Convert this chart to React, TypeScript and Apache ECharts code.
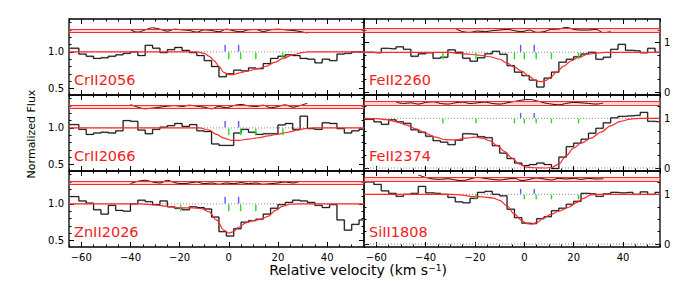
import React, { useEffect, useRef } from "react";
import * as echarts from "echarts";

// ---------- axis scales ----------
const X_MIN = -65;
const X_MAX = 55;
const X_MAJOR = [-60, -40, -20, 0, 20, 40];
const X_MINOR = [-65, -60, -55, -50, -45, -40, -35, -30, -25, -20, -15, -10, -5, 0, 5, 10, 15, 20, 25, 30, 35, 40, 45, 50, 55];
const Y_LEFT_MIN = 0.41;
const Y_LEFT_MAX = 1.45;
const Y_LEFT_MAJOR = [0.5, 1.0];
const Y_LEFT_MINOR = [0.5, 0.6, 0.7, 0.8, 0.9, 1.0, 1.1, 1.2, 1.3, 1.4];
const Y_RIGHT_MIN = -0.06;
const Y_RIGHT_MAX = 1.47;
const Y_RIGHT_MAJOR = [0, 1];
const Y_RIGHT_MINOR = [0, 0.25, 0.5, 0.75, 1, 1.25];

// ---------- velocity grids ----------
const BIN_FIRST_CENTER = -62.5;
const BIN_WIDTH = 3;
const RES_STEP = 3;

// ---------- observed flux (per 3 km/s pixel) ----------
const FLUX_CRII2056 = [1.05, 0.97, 0.94, 0.91, 0.92, 0.94, 0.96, 0.98, 1.0, 0.95, 1.09, 1.05, 0.99, 1.03, 1.06, 1.02, 0.99, 0.95, 0.88, 0.8, 0.66, 0.7, 0.75, 0.74, 0.78, 0.77, 0.84, 0.91, 0.94, 0.96, 0.95, 0.91, 0.9, 0.85, 0.9, 0.88, 0.97, 0.98, 1.0, 1.0];
const FLUX_CRII2066 = [1.045, 0.98, 0.91, 0.93, 0.94, 0.93, 0.96, 1.1, 1.09, 0.97, 0.92, 0.98, 1.01, 1.03, 1.06, 1.02, 1.045, 0.96, 0.95, 0.78, 0.76, 0.76, 0.93, 0.98, 0.94, 0.91, 0.92, 0.92, 1.04, 1.06, 0.98, 1.16, 0.99, 0.98, 1.07, 1.06, 0.99, 0.93, 0.96, 0.98];
const FLUX_ZNII2026 = [1.1, 1.04, 1.01, 0.92, 0.86, 0.98, 0.91, 0.9, 1.0, 1.05, 1.03, 0.99, 1.04, 0.96, 0.94, 0.92, 0.96, 0.95, 0.93, 0.82, 0.62, 0.56, 0.66, 0.75, 0.77, 0.79, 0.86, 0.94, 0.99, 1.02, 1.05, 1.04, 1.02, 0.98, 0.95, 0.99, 0.78, 0.64, 0.72, 0.78];
const FLUX_FEII2260 = [0.8, 0.79, 0.88, 0.87, 0.91, 0.86, 0.72, 0.77, 0.79, 0.68, 0.7, 0.85, 0.8, 0.68, 0.62, 0.69, 0.77, 0.82, 0.76, 0.53, 0.4, 0.33, 0.24, 0.1, 0.28, 0.4, 0.6, 0.66, 0.71, 0.765, 0.8, 0.66, 0.7, 0.86, 0.96, 0.84, 0.83, 0.79, 0.88, 0.8];
const FLUX_FEII2374 = [0.98, 0.93, 0.88, 0.97, 0.93, 0.9, 0.77, 0.72, 0.64, 0.55, 0.52, 0.47, 0.56, 0.69, 0.68, 0.63, 0.61, 0.45, 0.3, 0.19, 0.1, 0.05, 0.07, 0.1, 0.07, -0.01, 0.22, 0.43, 0.5, 0.58, 0.7, 0.8, 0.91, 1.01, 1.04, 1.05, 1.06, 1.12, 0.94, 0.93];
const FLUX_SIII1808 = [1.25, 1.2, 1.07, 1.02, 0.96, 1.0, 1.02, 1.16, 1.03, 1.02, 1.0, 0.94, 0.85, 0.83, 0.92, 1.04, 1.06, 1.0, 0.97, 0.7, 0.53, 0.42, 0.41, 0.51, 0.55, 0.67, 0.72, 0.8, 0.86, 1.02, 1.01, 0.96, 1.01, 1.04, 1.03, 1.04, 1.0, 1.05, 1.0, 1.04];

// ---------- model fits ----------
const FIT_V_CRII2056 = [-65, -55, -45, -35, -25, -17, -13, -10, -8, -6, -4, -2, 0, 2, 4, 8, 12, 15, 19, 22, 26, 30, 32, 36, 42, 48, 55];
const FIT_CRII2056 = [1, 1, 1, 1, 1, 1, 1, 0.98, 0.94, 0.88, 0.8, 0.72, 0.69, 0.69, 0.71, 0.74, 0.77, 0.8, 0.86, 0.91, 0.96, 0.99, 1, 1, 1, 1, 1];
const FIT_V_CRII2066 = [-65, -55, -45, -35, -25, -16, -12, -8, -5, -2, 1, 4, 8, 12, 16, 20, 24, 28, 31, 34, 38, 44, 50, 55];
const FIT_CRII2066 = [1, 1, 1, 1, 1, 1, 1, 0.97, 0.91, 0.86, 0.83, 0.83, 0.845, 0.865, 0.89, 0.915, 0.94, 0.97, 0.99, 1, 1, 1, 1, 1];
const FIT_V_ZNII2026 = [-65, -57, -49, -42, -36, -30, -25, -20, -15, -11, -8, -5, -2, 0, 2, 4, 7, 10, 13, 16, 19, 22, 25, 28, 33, 40, 47, 55];
const FIT_ZNII2026 = [1, 1, 1, 1, 1, 0.985, 0.965, 0.945, 0.945, 0.935, 0.89, 0.78, 0.64, 0.6, 0.62, 0.68, 0.74, 0.77, 0.79, 0.83, 0.91, 0.97, 0.995, 1, 1, 1, 1, 1];
const FIT_V_FEII2260 = [-65, -56, -47, -38, -30, -27, -22, -18, -14, -10, -7, -4, -1, 2, 5, 7, 9, 11, 13, 16, 19, 22, 26, 30, 33, 38, 44, 50, 55];
const FIT_FEII2260 = [0.8, 0.8, 0.8, 0.8, 0.8, 0.775, 0.76, 0.74, 0.71, 0.66, 0.58, 0.5, 0.42, 0.31, 0.22, 0.21, 0.24, 0.31, 0.4, 0.52, 0.63, 0.7, 0.76, 0.79, 0.8, 0.8, 0.8, 0.8, 0.8];
const FIT_V_FEII2374 = [-65, -60, -56, -52, -48, -44, -40, -36, -32, -28, -24, -20, -17, -14, -11, -8, -5, -2, 1, 4, 8, 11, 14, 17, 20, 23, 27, 31, 35, 39, 43, 47, 51, 55];
const FIT_FEII2374 = [1, 0.995, 0.975, 0.935, 0.87, 0.79, 0.7, 0.62, 0.57, 0.565, 0.6, 0.62, 0.6, 0.55, 0.45, 0.33, 0.2, 0.08, 0.02, 0.005, 0.0, 0.01, 0.08, 0.25, 0.4, 0.5, 0.6, 0.72, 0.85, 0.94, 0.985, 1, 1, 1];
const FIT_V_SIII1808 = [-65, -57, -49, -41, -34, -30, -25, -21, -17, -13, -10, -7, -4, -1, 1, 3, 5, 8, 11, 14, 18, 21, 24, 27, 29, 34, 40, 47, 55];
const FIT_SIII1808 = [1, 1, 1, 1, 1, 1, 0.985, 0.955, 0.95, 0.93, 0.88, 0.77, 0.6, 0.47, 0.41, 0.4, 0.43, 0.53, 0.6, 0.66, 0.74, 0.83, 0.92, 0.99, 1, 1, 1, 1, 1];

// ---------- residuals (offset above the profile) ----------
const RES_START_CRII2056 = -40;
const RES_CRII2056 = [1.302, 1.27, 1.302, 1.329, 1.311, 1.284, 1.311, 1.302, 1.293, 1.27, 1.302, 1.293, 1.275, 1.311, 1.288, 1.275, 1.302, 1.306, 1.279, 1.302, 1.311, 1.302, 1.293, 1.279, 1.257];
const RES_START_CRII2066 = -40;
const RES_CRII2066 = [1.32, 1.284, 1.261, 1.27, 1.284, 1.297, 1.306, 1.293, 1.311, 1.297, 1.284, 1.261, 1.293, 1.275, 1.306, 1.32, 1.302, 1.293, 1.311, 1.275, 1.293, 1.315, 1.284, 1.306, 1.338];
const RES_START_ZNII2026 = -40;
const RES_ZNII2026 = [1.277, 1.309, 1.323, 1.3, 1.286, 1.323, 1.291, 1.277, 1.286, 1.3, 1.277, 1.286, 1.268, 1.286, 1.277, 1.291, 1.277, 1.286, 1.268, 1.277, 1.286, 1.3, 1.286, 1.309];
const RES_START_FEII2260 = -28;
const RES_FEII2260 = [1.282, 1.215, 1.201, 1.228, 1.215, 1.235, 1.248, 1.262, 1.235, 1.215, 1.248, 1.201, 1.215, 1.262, 1.268, 1.302, 1.262, 1.248, 1.248, 1.262, 1.195, 1.215];
const RES_START_FEII2374 = -52;
const RES_FEII2374 = [1.327, 1.3, 1.313, 1.287, 1.32, 1.333, 1.3, 1.287, 1.313, 1.327, 1.3, 1.313, 1.327, 1.3, 1.287, 1.313, 1.34, 1.367, 1.38, 1.353, 1.313, 1.287, 1.273, 1.3, 1.32, 1.313, 1.3, 1.287, 1.307];
const RES_START_SIII1808 = -43;
const RES_SIII1808 = [1.389, 1.342, 1.309, 1.302, 1.315, 1.289, 1.275, 1.309, 1.342, 1.322, 1.302, 1.289, 1.309, 1.322, 1.275, 1.302, 1.329, 1.309, 1.289, 1.322, 1.309, 1.322, 1.302, 1.322, 1.309, 1.315];

const BAND_LEFT = [1.266, 1.312];
const BAND_FEII2260 = [1.21, 1.28];
const BAND_FEII2374 = [1.275, 1.342];
const BAND_SIII1808 = [1.275, 1.342];

// ---------- velocity components ----------
const BLUE_COMPONENTS = [-1.5, 4.0];
const GREEN_CRII2056 = [0, 4.8, 11, 22];
const GREEN_CRII2066 = [0, 4.8, 11, 22];
const GREEN_ZNII2026 = [-19.6, 0, 4.8, 11];
const GREEN_FEII2260 = [-33, -19.6, -4, 0, 4.8, 11, 22];
const GREEN_FEII2374 = [-33, -19.6, -4, 0, 4.8, 11, 22];
const GREEN_SIII1808 = [-19.6, 0, 4.8, 11, 22];

const PANELS = [
  { ion: "CrII2056", col: 0, row: 0, flux: FLUX_CRII2056, fitV: FIT_V_CRII2056, fit: FIT_CRII2056, resStart: RES_START_CRII2056, res: RES_CRII2056, band: BAND_LEFT, cont: 1, zero: false, green: GREEN_CRII2056, blueSpan: [1.005, 1.095], greenSpan: [0.9, 0.99] },
  { ion: "CrII2066", col: 0, row: 1, flux: FLUX_CRII2066, fitV: FIT_V_CRII2066, fit: FIT_CRII2066, resStart: RES_START_CRII2066, res: RES_CRII2066, band: BAND_LEFT, cont: 1, zero: false, green: GREEN_CRII2066, blueSpan: [1.005, 1.095], greenSpan: [0.9, 0.99] },
  { ion: "ZnII2026", col: 0, row: 2, flux: FLUX_ZNII2026, fitV: FIT_V_ZNII2026, fit: FIT_ZNII2026, resStart: RES_START_ZNII2026, res: RES_ZNII2026, band: BAND_LEFT, cont: 1, zero: false, green: GREEN_ZNII2026, blueSpan: [1.005, 1.095], greenSpan: [0.9, 0.99] },
  { ion: "FeII2260", col: 1, row: 0, flux: FLUX_FEII2260, fitV: FIT_V_FEII2260, fit: FIT_FEII2260, resStart: RES_START_FEII2260, res: RES_FEII2260, band: BAND_FEII2260, cont: 0.8, zero: false, green: GREEN_FEII2260, blueSpan: [0.81, 0.95], greenSpan: [0.66, 0.79] },
  { ion: "FeII2374", col: 1, row: 1, flux: FLUX_FEII2374, fitV: FIT_V_FEII2374, fit: FIT_FEII2374, resStart: RES_START_FEII2374, res: RES_FEII2374, band: BAND_FEII2374, cont: 1, zero: true, green: GREEN_FEII2374, blueSpan: [1.01, 1.11], greenSpan: [0.9, 0.99] },
  { ion: "SiII1808", col: 1, row: 2, flux: FLUX_SIII1808, fitV: FIT_V_SIII1808, fit: FIT_SIII1808, resStart: RES_START_SIII1808, res: RES_SIII1808, band: BAND_SIII1808, cont: 1, zero: true, green: GREEN_SIII1808, blueSpan: [1.01, 1.11], greenSpan: [0.9, 0.99] },
];

// ---------- layout ----------
const COL_X = [69, 364];
const COL_W = [295, 296];
const ROW_Y = [19, 95, 171];
const ROW_H = 76;
const FONT = "DejaVu Sans";
const RED = "#ff2a2a";

const fmtX = (v: number) => (v < 0 ? "\u2212" + Math.abs(v) : String(v));

function buildOption() {
  const grids: any[] = [];
  const xAxes: any[] = [];
  const yAxes: any[] = [];
  const series: any[] = [];
  const graphics: any[] = [];

  PANELS.forEach((p, g) => {
    grids.push({
      left: COL_X[p.col],
      top: ROW_Y[p.row],
      width: COL_W[p.col],
      height: ROW_H,
      show: true,
      borderColor: "#000",
      borderWidth: 1.3,
      backgroundColor: "transparent",
      containLabel: false,
    });
    const xBase = {
      type: "value",
      gridIndex: g,
      min: X_MIN,
      max: X_MAX,
      splitLine: { show: false },
      axisLine: { show: false, onZero: false },
    };
    const tick = (vals: number[], len: number) => ({
      show: true,
      inside: true,
      length: len,
      customValues: vals,
      lineStyle: { color: "#000", width: 1 },
    });
    xAxes.push({
      ...xBase,
      position: "bottom",
      axisTick: tick(X_MAJOR, 5),
      axisLabel: {
        show: p.row === 2,
        customValues: X_MAJOR,
        formatter: fmtX,
        margin: 5,
        color: "#000",
        fontSize: 10,
        lineHeight: 10,
        fontFamily: FONT,
      },
    });
    xAxes.push({ ...xBase, position: "bottom", axisTick: tick(X_MINOR, 2.5), axisLabel: { show: false } });
    xAxes.push({ ...xBase, position: "top", axisTick: tick(X_MAJOR, 5), axisLabel: { show: false } });
    xAxes.push({ ...xBase, position: "top", axisTick: tick(X_MINOR, 2.5), axisLabel: { show: false } });

    const isLeft = p.col === 0;
    const yBase = {
      type: "value",
      gridIndex: g,
      min: isLeft ? Y_LEFT_MIN : Y_RIGHT_MIN,
      max: isLeft ? Y_LEFT_MAX : Y_RIGHT_MAX,
      splitLine: { show: false },
      axisLine: { show: false, onZero: false },
    };
    const major = isLeft ? Y_LEFT_MAJOR : Y_RIGHT_MAJOR;
    const minor = isLeft ? Y_LEFT_MINOR : Y_RIGHT_MINOR;
    const yLabel = (show: boolean) => ({
      show,
      customValues: major,
      formatter: (v: number) => (isLeft ? v.toFixed(1) : String(Math.round(v))),
      margin: isLeft ? 5 : 4,
      color: "#000",
      fontSize: 10,
      fontFamily: FONT,
    });
    yAxes.push({ ...yBase, position: "left", axisTick: tick(major, 5), axisLabel: yLabel(isLeft) });
    yAxes.push({ ...yBase, position: "left", axisTick: tick(minor, 2.5), axisLabel: { show: false } });
    yAxes.push({ ...yBase, position: "right", axisTick: tick(major, 5), axisLabel: yLabel(!isLeft) });
    yAxes.push({ ...yBase, position: "right", axisTick: tick(minor, 2.5), axisLabel: { show: false } });

    const ax = { xAxisIndex: 4 * g, yAxisIndex: 4 * g };
    const base = { ...ax, type: "line", symbol: "none", silent: true, animation: false };

    // dotted continuum and zero level
    series.push({
      ...base,
      data: [[X_MIN, p.cont], [X_MAX, p.cont]],
      lineStyle: { color: "#8a8a8a", width: 1, type: [1, 2] },
      z: 1,
    });
    if (p.zero) {
      series.push({
        ...base,
        data: [[X_MIN, 0], [X_MAX, 0]],
        lineStyle: { color: "#8a8a8a", width: 1, type: [1, 2] },
        z: 1,
      });
    }

    // residual with error band
    const resData = p.res.map((r, i) => [p.resStart + i * RES_STEP, r]);
    series.push({
      ...base,
      data: resData,
      smooth: 0.4,
      lineStyle: { color: "#111", width: 1 },
      z: 3,
      markArea: {
        silent: true,
        itemStyle: { color: "rgba(255,150,150,0.45)" },
        data: [[{ yAxis: p.band[0] }, { yAxis: p.band[1] }]],
      },
      markLine: {
        silent: true,
        symbol: "none",
        label: { show: false },
        lineStyle: { color: RED, width: 1, type: "solid" },
        data: [{ yAxis: p.band[0] }, { yAxis: p.band[1] }],
      },
    });

    // histogram of observed flux
    const centers = p.flux.map((f, i) => [BIN_FIRST_CENTER + i * BIN_WIDTH, f]);
    const hist = [[X_MIN, p.flux[0]], ...centers, [X_MAX, p.flux[p.flux.length - 1]]];
    series.push({ ...base, data: hist, step: "middle", lineStyle: { color: "#b8b8b8", width: 1.8 }, z: 2 });
    series.push({ ...base, data: hist, step: "middle", lineStyle: { color: "#000", width: 0.9 }, z: 3 });

    // model fit
    series.push({
      ...base,
      data: p.fitV.map((v, i) => [v, p.fit[i]]),
      smooth: 0.35,
      smoothMonotone: "x",
      lineStyle: { color: RED, width: 1.2 },
      z: 4,
    });

    // component ticks
    const tickSeries = (vals: number[], span: number[], color: string) => ({
      ...ax,
      type: "custom",
      silent: true,
      animation: false,
      z: 5,
      data: vals.map((v) => [v, span[0], span[1]]),
      renderItem: (_params: any, api: any) => {
        const a = api.coord([api.value(0), api.value(1)]);
        const b = api.coord([api.value(0), api.value(2)]);
        return {
          type: "line",
          shape: { x1: a[0], y1: a[1], x2: b[0], y2: b[1] },
          style: { stroke: color, lineWidth: 1.4 },
        };
      },
    });
    series.push(tickSeries(BLUE_COMPONENTS, p.blueSpan, "#5b5bff"));
    series.push(tickSeries(p.green, p.greenSpan, "#22dd22"));

    // ion label
    graphics.push({
      type: "text",
      x: COL_X[p.col] + 5,
      y: ROW_Y[p.row] + 61,
      silent: true,
      style: {
        text: p.ion,
        fill: "#f21c1c",
        font: `14.5px "${FONT}"`,
        textAlign: "left",
        textVerticalAlign: "middle",
      },
      z: 10,
    });
  });

  graphics.push({
    type: "text",
    x: 31,
    y: 134,
    rotation: Math.PI / 2,
    silent: true,
    style: {
      text: "Normalized Flux",
      fill: "#000",
      font: `11px "${FONT}"`,
      textAlign: "center",
      textVerticalAlign: "middle",
    },
  });
  graphics.push({
    type: "text",
    x: 358,
    y: 270,
    silent: true,
    style: {
      text: "Relative velocity (km s{sup|\u22121})",
      fill: "#000",
      font: `14px "${FONT}"`,
      lineHeight: 14,
      textAlign: "center",
      textVerticalAlign: "middle",
      rich: {
        sup: { fontSize: 9, lineHeight: 14, fontFamily: FONT, fill: "#000", verticalAlign: "top", padding: [0, 0, 5, 0] },
      },
    },
  });

  return {
    animation: false,
    backgroundColor: "#fff",
    grid: grids,
    xAxis: xAxes,
    yAxis: yAxes,
    series,
    graphic: graphics,
  };
}

export default function App() {
  const ref = useRef<HTMLDivElement>(null);
  useEffect(() => {
    if (!ref.current) return;
    const chart = echarts.init(ref.current, undefined, { renderer: "svg" });
    chart.setOption(buildOption() as any);
    return () => chart.dispose();
  }, []);
  return (
    <div
      ref={ref}
      style={{ position: "fixed", left: 0, top: 0, width: 688, height: 281, background: "#fff" }}
    />
  );
}
